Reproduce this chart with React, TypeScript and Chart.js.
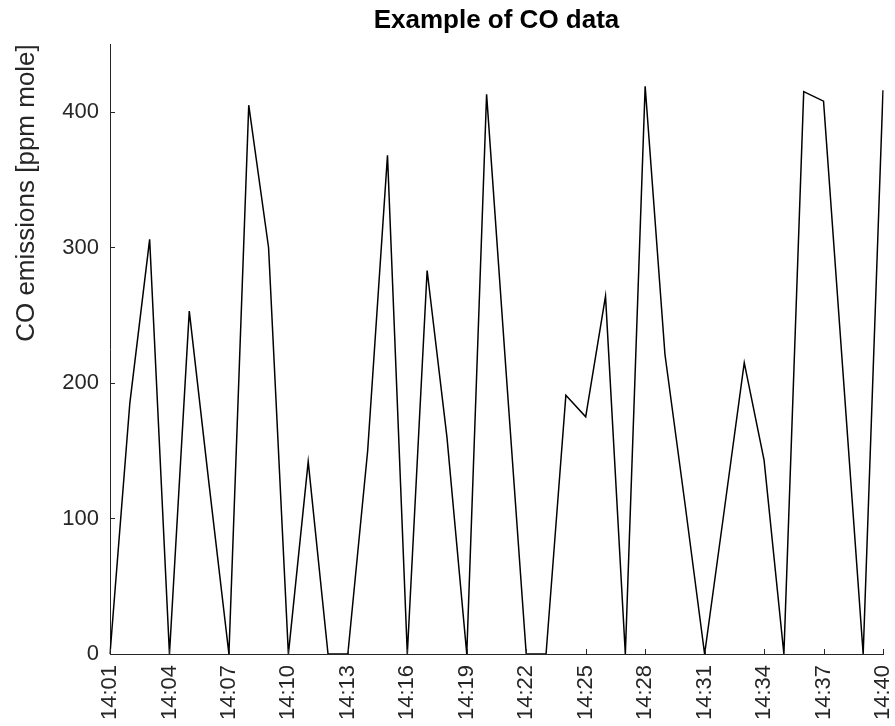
import React, { useEffect, useRef } from "react";
import { Chart, registerables } from "chart.js";

Chart.register(...registerables);

const times: string[] = [
  "14:01", "14:02", "14:03", "14:04", "14:05", "14:06", "14:07", "14:08", "14:09", "14:10",
  "14:11", "14:12", "14:13", "14:14", "14:15", "14:16", "14:17", "14:18", "14:19", "14:20",
  "14:21", "14:22", "14:23", "14:24", "14:25", "14:26", "14:27", "14:28", "14:29", "14:30",
  "14:31", "14:32", "14:33", "14:34", "14:35", "14:36", "14:37", "14:38", "14:39", "14:40",
];

const coValues: number[] = [
  0, 185, 306, 0, 253, 125, 0, 405, 300, 0,
  142, 0, 0, 150, 368, 0, 283, 160, 0, 413,
  205, 0, 0, 191, 175, 264, 0, 419, 221, 112,
  0, 107, 215, 143, 0, 415, 408, 204, 0, 416,
];

const yTicks: number[] = [0, 100, 200, 300, 400];
const xTickEvery = 3;

const titleText = "Example of CO data";
const yLabel = "CO emissions [ppm mole]";

const FONT = "'Liberation Sans', Arial, Helvetica, sans-serif";
const AXIS_COLOR = "#262626";

const innerTicks = {
  id: "innerTicks",
  afterDraw(chart: any) {
    const ctx = chart.ctx;
    const xs = chart.scales.x;
    const ys = chart.scales.y;
    const area = chart.chartArea;
    const len = 5;
    ctx.save();
    ctx.strokeStyle = AXIS_COLOR;
    ctx.lineWidth = 1;
    ctx.beginPath();
    xs.ticks.forEach((t: any, i: number) => {
      if (t.label === null || t.label === undefined || t.label === "") return;
      const px = Math.round(xs.getPixelForTick(i)) + 0.5;
      ctx.moveTo(px, area.bottom);
      ctx.lineTo(px, area.bottom - len);
    });
    ys.ticks.forEach((t: any, i: number) => {
      if (!yTicks.includes(t.value)) return;
      const py = Math.round(ys.getPixelForTick(i)) + 0.5;
      ctx.moveTo(area.left, py);
      ctx.lineTo(area.left + len, py);
    });
    ctx.stroke();
    ctx.restore();
  },
};

export default function App() {
  const ref = useRef<HTMLCanvasElement | null>(null);

  useEffect(() => {
    if (!ref.current) return;
    const chart = new Chart(ref.current, {
      type: "line",
      data: {
        labels: times,
        datasets: [
          {
            data: coValues,
            borderColor: "#000000",
            borderWidth: 1.5,
            pointRadius: 0,
            tension: 0,
            fill: false,
          },
        ],
      },
      options: {
        responsive: false,
        animation: false,
        layout: { padding: { left: 0, right: 12, top: 0, bottom: 0 } },
        plugins: {
          legend: { display: false },
          tooltip: { enabled: false },
          title: {
            display: true,
            text: titleText,
            fullSize: false,
            color: "#000000",
            font: { family: FONT, size: 26, weight: "bold", lineHeight: 1.2 },
            padding: { top: 5, bottom: 8 },
          },
        },
        scales: {
          x: {
            type: "category",
            offset: false,
            grid: { display: true, drawOnChartArea: false, drawTicks: false },
            border: { display: true, color: AXIS_COLOR, width: 1 },
            ticks: {
              autoSkip: false,
              maxRotation: 90,
              minRotation: 90,
              padding: 11,
              color: AXIS_COLOR,
              font: { family: FONT, size: 22 },
              callback: (_v: any, i: number) => (i % xTickEvery === 0 ? times[i] : null),
            },
            afterFit: (s: any) => {
              s.height = 72;
              s.paddingLeft = 0;
              s.paddingRight = 0;
            },
          },
          y: {
            type: "linear",
            min: 0,
            max: 450,
            grid: { display: true, drawOnChartArea: false, drawTicks: false },
            border: { display: true, color: AXIS_COLOR, width: 1 },
            ticks: {
              stepSize: 100,
              padding: 11,
              color: AXIS_COLOR,
              font: { family: FONT, size: 22 },
              callback: (v: any) => (yTicks.includes(Number(v)) ? String(v) : null),
            },
            title: {
              display: true,
              text: yLabel,
              align: "end",
              color: AXIS_COLOR,
              font: { family: FONT, size: 26 },
              padding: { top: 11, bottom: 0 },
            },
            afterFit: (s: any) => {
              s.width = 110;
              s.paddingTop = 0;
              s.paddingBottom = 0;
            },
          },
        },
      },
      plugins: [innerTicks],
    } as any);
    return () => chart.destroy();
  }, []);

  return (
    <div style={{ position: "absolute", left: 0, top: 0, width: 895, height: 726, background: "#fff" }}>
      <canvas ref={ref} width={895} height={726} style={{ width: 895, height: 726 }} />
    </div>
  );
}
